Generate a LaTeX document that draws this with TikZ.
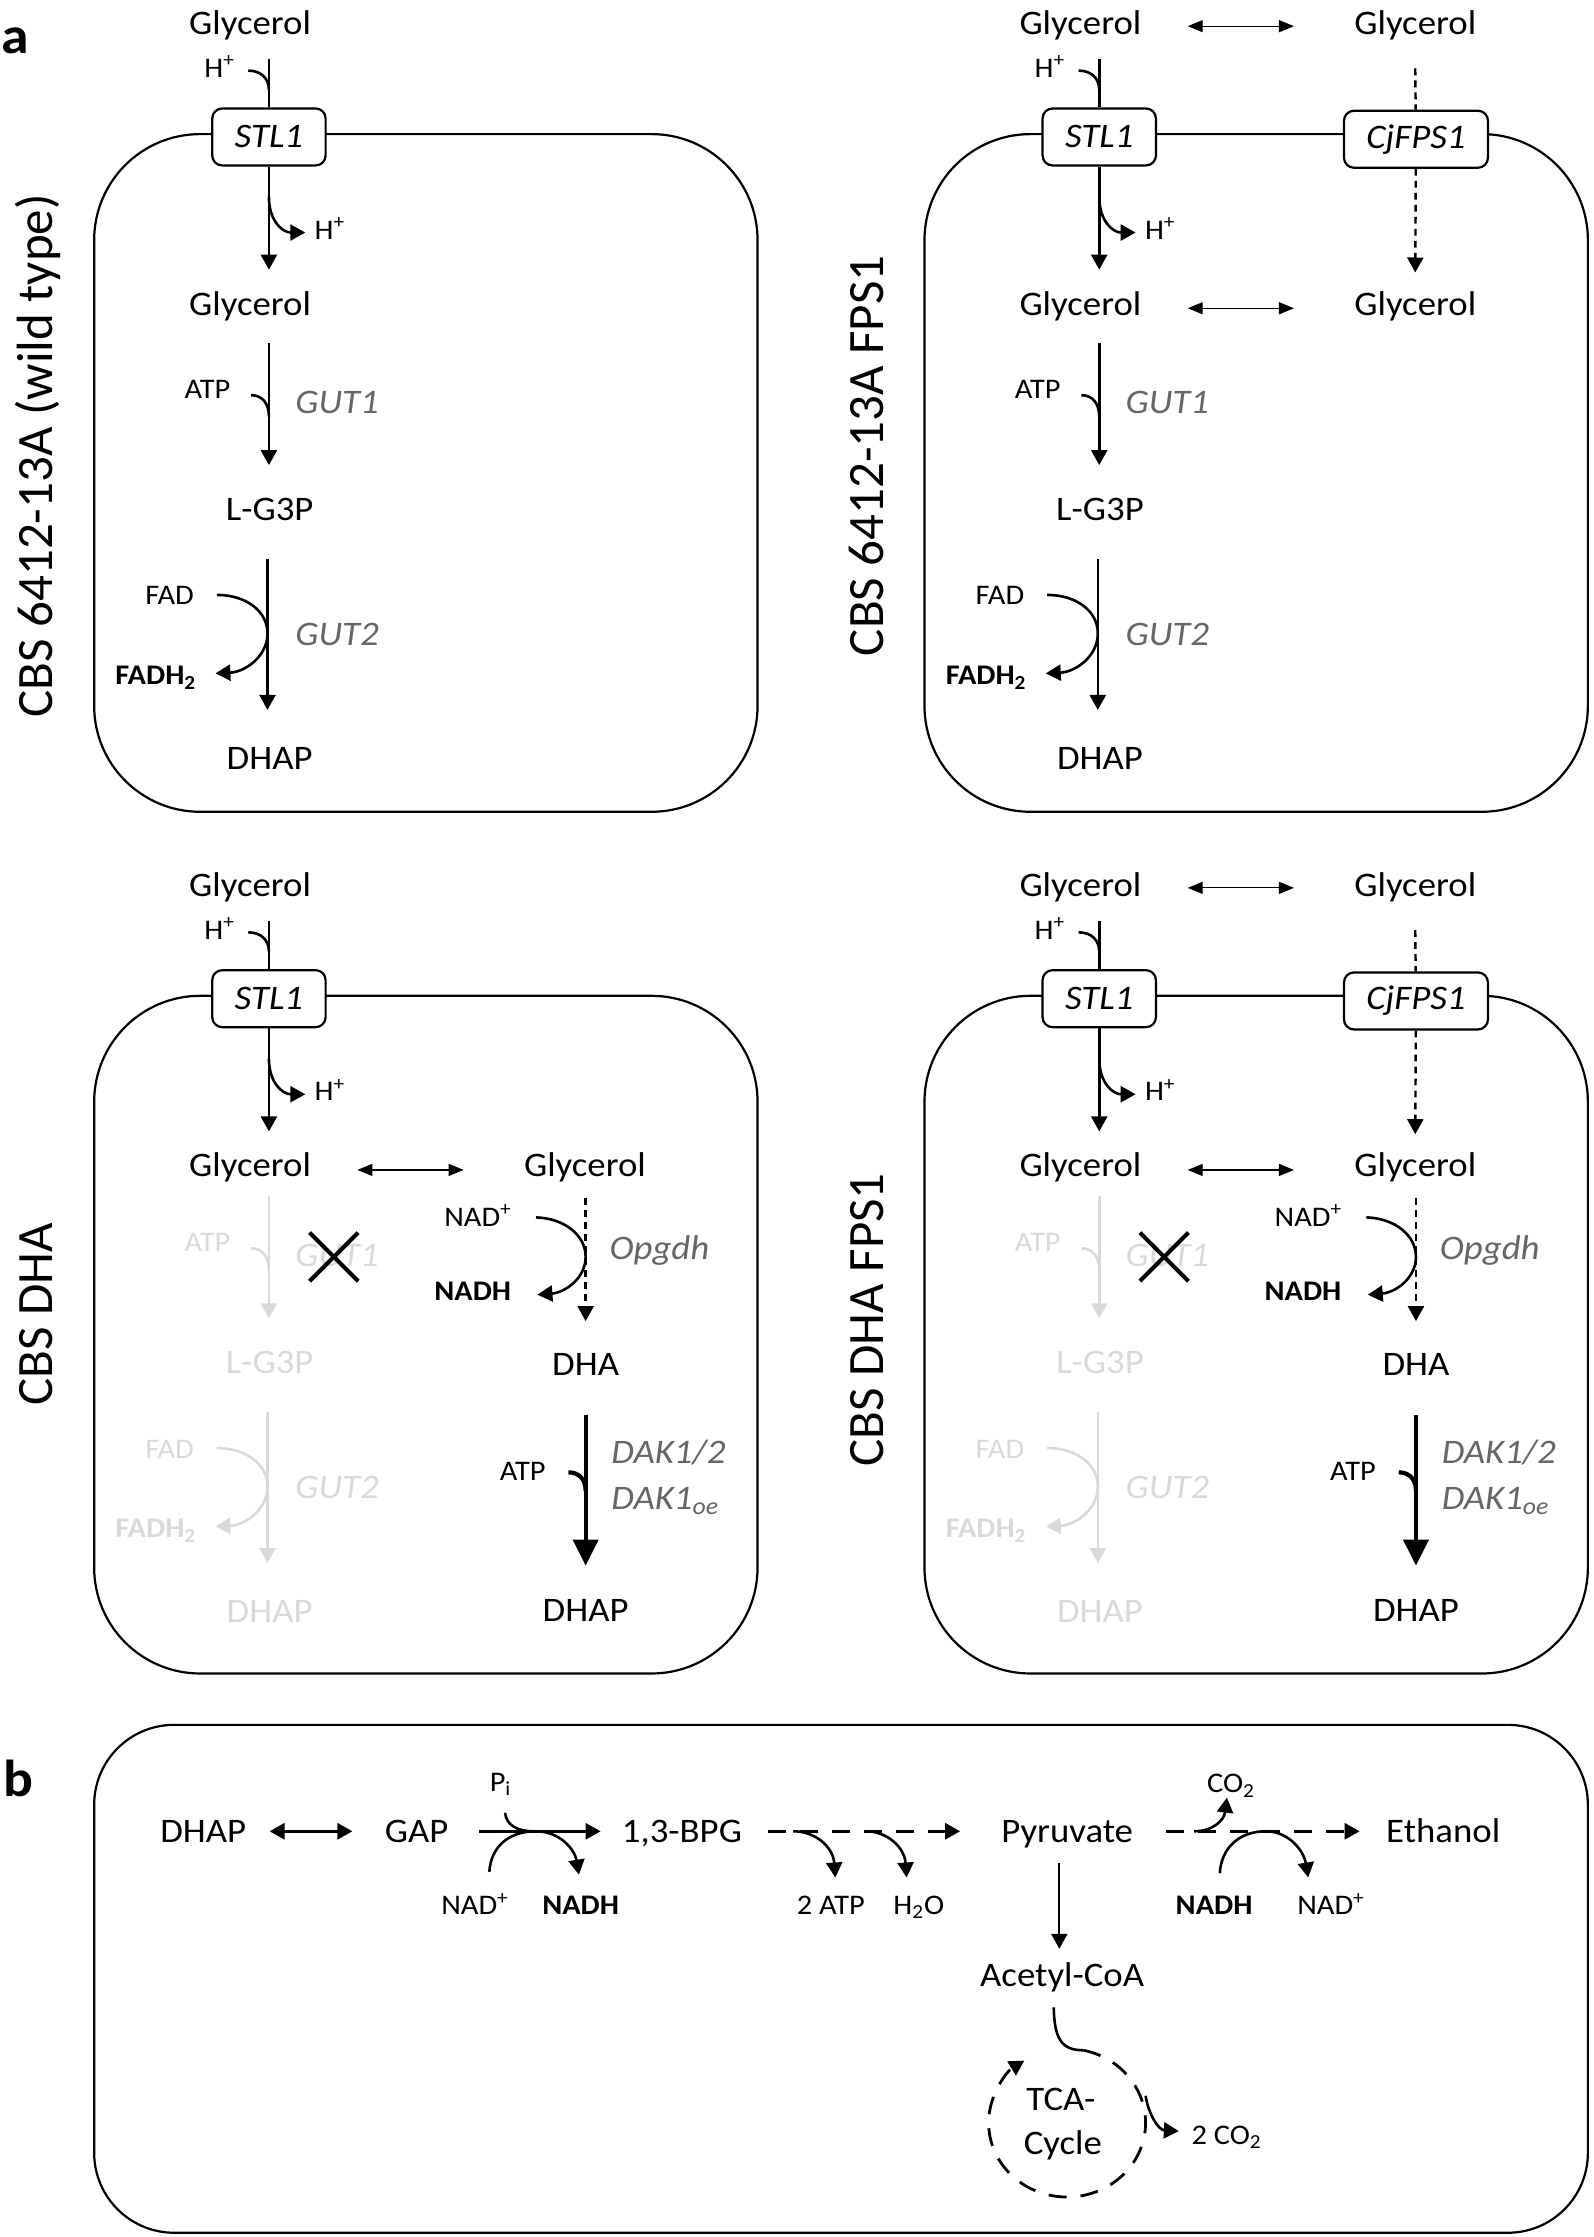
\documentclass[tikz,border=0pt]{standalone}
\usepackage{fontspec}
\setmainfont[FakeStretch=1.07]{Carlito}
\newfontfamily\rotfont{Carlito}
\usetikzlibrary{arrows.meta}
\colorlet{pathcol}{black}
\colorlet{genecol}{black!60}
\tikzset{
  main/.style={inner sep=0pt, font=\fontsize{17.2}{20}\selectfont},
  small/.style={inner sep=0pt, font=\fontsize{14.2}{17}\selectfont},
  gene/.style={inner sep=0pt, text=genecol, font=\fontsize{17.2}{20}\selectfont\itshape},
  panel/.style={inner sep=0pt, font=\fontsize{26}{30}\selectfont\bfseries},
  strain/.style={inner sep=0pt, rotate=90, anchor=base, font=\rotfont\fontsize{25.5}{30}\selectfont},
  cell/.style={draw, line width=1.1pt, rounded corners=53pt},
  tbox/.style={draw, fill=white, line width=1.1pt, rounded corners=5pt, inner sep=0pt, minimum height=28.5pt, font=\fontsize{17.2}{20}\selectfont\itshape},
  ln/.style={line width=1.3pt},
  atip/.tip={Triangle[length=7.5pt,width=8pt]},
  btip/.tip={Triangle[length=13pt,width=12.5pt]},
  arr/.style={ln, -atip},
  dsh/.style={line width=1.2pt, dash pattern=on 3.4pt off 2.6pt},
  dbl/.style={line width=0.6pt, {Triangle[length=7.5pt,width=6pt]}-{Triangle[length=7.5pt,width=6pt]}},
  heavy/.style={line width=2.1pt},
  bdash/.style={line width=1.4pt, dash pattern=on 9pt off 7pt},
}
% ---------- STL1 uptake ----------
\newcommand\stlpart{%
  \node[main,anchor=base] (g0) at (175.3,24.5) {Glycerol};
  \node[small,anchor=base west] (h0) at (143,54.2) {H\textsuperscript{+}};
  \node[tbox,minimum width=56.7pt] (stl) at (188.5,96) {STL1};
  \node[small,anchor=base west] (h1) at (220.3,167.7) {H\textsuperscript{+}};
  \node[main,anchor=base] (g1) at (175.3,220.8) {Glycerol};
  \coordinate (p0) at (188.5,41.6);
  \coordinate (p1) at (188.5,189);
  \coordinate (q0) at (174,49.5);
  \coordinate (q1) at (188.5,63);
  \coordinate (q2) at (188.5,138);
  \coordinate (q3) at (214,163);
  \draw[ln] (p0) -- (stl);
  \draw[arr] (stl) -- (p1);
  \draw[ln] (q0) .. controls (183,49.5) and (188.5,55) .. (q1);
  \draw[arr] (q2) .. controls (188.5,155) and (198,163) .. (q3);
}
% ---------- GUT1 / GUT2 ----------
\newcommand\gutpart{%
  \node[small,anchor=base east,text=pathcol] (atp1) at (161.7,279.1) {ATP};
  \node[gene,anchor=base west] (gut1) at (206.7,289.5) {GUT1};
  \node[main,anchor=base,text=pathcol] (lg3p) at (189,364.9) {L-G3P};
  \node[small,anchor=base east,text=pathcol] (fad) at (136.2,424) {FAD};
  \node[small,anchor=base east,text=pathcol] (fadh) at (137.8,480) {\textbf{FADH\textsubscript{2}}};
  \node[gene,anchor=base west] (gut2) at (206.7,452.5) {GUT2};
  \node[main,anchor=base,text=pathcol] (dhap1) at (189,539.6) {DHAP};
  \coordinate (r0) at (188.5,240.6);
  \coordinate (r1) at (188.5,326);
  \coordinate (s0) at (176,277);
  \coordinate (s1) at (188.5,292);
  \coordinate (u0) at (187.5,392);
  \coordinate (u1) at (187.5,497.6);
  \coordinate (v0) at (152,417);
  \coordinate (v1) at (151,472);
  \draw[arr,pathcol] (r0) -- (r1);
  \draw[ln,pathcol] (s0) .. controls (184,277) and (188.5,283) .. (s1);
  \draw[arr,pathcol] (u0) -- (u1);
  \draw[arr,pathcol] (v0) .. controls (172,417) and (187.5,428) .. (187.5,444)
        .. controls (187.5,460) and (172,471) .. (v1);
}
% ---------- CjFPS1 ----------
\newcommand\fpstop{%
  \node[main,anchor=base] (g0r) at (410,24.5) {Glycerol};
  \draw[dbl] ([xshift=23pt,yshift=2pt]g0.mid east) -- ([xshift=-30pt,yshift=2pt]g0r.mid west);
  \node[tbox,minimum width=72pt] (cj) at (410.5,97.6) {CjFPS1};
  \coordinate (d0) at (410,48);
  \coordinate (d1) at (410,191);
  \draw[dsh] (d0) -- (cj);
  \draw[dsh,-atip] (cj) -- (d1);
}
\newcommand\midright{%
  \node[main,anchor=base] (g1r) at (410,220.8) {Glycerol};
  \draw[dbl] ([xshift=23pt,yshift=1pt]g1.mid east) -- ([xshift=-30pt,yshift=1pt]g1r.mid west);
}
% ---------- DHA pathway ----------
\newcommand\dhapart{%
  \node[small,anchor=base east] (nad) at (359,255.6) {NAD\textsuperscript{+}};
  \node[small,anchor=base east] (nadh) at (358.5,307.5) {\textbf{NADH}};
  \node[gene,anchor=base west] (opg) at (427,279) {Opgdh};
  \node[main,anchor=base] (dha) at (410.5,360.3) {DHA};
  \node[small,anchor=base east] (atp2) at (382.7,433.6) {ATP};
  \node[gene,anchor=base west] (dak) at (428.3,422) {DAK1/2};
  \node[gene,anchor=base west] (dakoe) at (428.3,454.2) {DAK1\textsubscript{oe}};
  \node[main,anchor=base] (dhap2) at (410.5,532.4) {DHAP};
  \coordinate (e0) at (375.7,249.3);
  \coordinate (e1) at (376.7,303.5);
  \coordinate (f0) at (410.5,235.7);
  \coordinate (f1) at (410.5,322);
  \coordinate (k0) at (410.5,387.6);
  \coordinate (k1) at (410.5,493.4);
  \coordinate (m0) at (398.4,428);
  \coordinate (m1) at (410.5,441);
  \draw[dsh,-atip] (f0) -- (f1);
  \draw[arr] (e0) .. controls (396,250) and (410.5,262) .. (410.5,277)
        .. controls (410.5,292) and (396,302) .. (e1);
  \draw[heavy,-btip] (k0) -- (k1);
  \draw[heavy] (m0) .. controls (405,428) and (410.5,432) .. (m1);
  \coordinate (x1) at (217,260);
  \coordinate (x2) at (251,294);
  \coordinate (x3) at (217,294);
  \coordinate (x4) at (251,260);
  \draw[line width=2pt] (x1) -- (x2) (x3) -- (x4);
}
\begin{document}
\begin{tikzpicture}[x=0.7135pt,y=-0.7135pt]
\useasboundingbox (0,0) rectangle (1117,1568);

\node[panel,anchor=base west] (a) at (1,37.4) {a};

% top left
\begin{scope}[name prefix=tl-]
  \draw[cell] (66,94) rectangle (531,569);
  \stlpart
  \gutpart
  \node[strain] (lab) at (37,319.5) {CBS 6412-13A (wild type)};
\end{scope}

% top right
\begin{scope}[shift={(582,0)},name prefix=tr-]
  \draw[cell] (66,94) rectangle (531,569);
  \stlpart
  \gutpart
  \fpstop
  \midright
  \node[strain] (lab) at (37,319.5) {CBS 6412-13A FPS1};
\end{scope}

% bottom left
\begin{scope}[shift={(0,604)},name prefix=bl-]
  \draw[cell] (66,94) rectangle (531,569);
  \stlpart
  \begin{scope}[shift={(0,-6)}]
    \colorlet{pathcol}{black!15}\colorlet{genecol}{black!15}
    \gutpart
  \end{scope}
  \midright
  \dhapart
  \node[strain] (lab) at (37,317) {CBS DHA};
\end{scope}

% bottom right
\begin{scope}[shift={(582,604)},name prefix=br-]
  \draw[cell] (66,94) rectangle (531,569);
  \stlpart
  \begin{scope}[shift={(0,-6)}]
    \colorlet{pathcol}{black!15}\colorlet{genecol}{black!15}
    \gutpart
  \end{scope}
  \fpstop
  \midright
  \dhapart
  \node[strain] (lab) at (37,321) {CBS DHA FPS1};
\end{scope}

% ---------------- panel b ----------------
\node[panel,anchor=base west] (b) at (2.5,1259) {b};
\draw[cell,rounded corners=40pt] (66,1209) rectangle (1113,1565);

\node[main,anchor=base] (dhapb) at (142.5,1291.7) {DHAP};
\node[main,anchor=base] (gap) at (292,1291.7) {GAP};
\node[main,anchor=base] (bpg) at (478,1291.7) {1,3-BPG};
\node[main,anchor=base] (pyr) at (748,1291.7) {Pyruvate};
\node[main,anchor=base] (eth) at (1011.6,1291.7) {Ethanol};
\node[main,anchor=base] (acoa) at (744.5,1392.5) {Acetyl-CoA};
\node[small,anchor=base west] (pi) at (343,1255.6) {P\textsubscript{i}};
\node[small,anchor=base] (nadb1) at (333,1342) {NAD\textsuperscript{+}};
\node[small,anchor=base] (nadhb1) at (407,1342) {\textbf{NADH}};
\node[small,anchor=base] (atpb) at (582.4,1342) {2 ATP};
\node[small,anchor=base] (h2o) at (644,1342) {H\textsubscript{2}O};
\node[small,anchor=base west] (co2) at (845.8,1256.6) {CO\textsubscript{2}};
\node[small,anchor=base] (nadhb2) at (851,1342) {\textbf{NADH}};
\node[small,anchor=base] (nadb2) at (933,1342) {NAD\textsuperscript{+}};
\node[main,anchor=base] (tca) at (743.6,1479) {TCA-};
\node[main,anchor=base] (cyc) at (745,1510) {Cycle};
\node[small,anchor=base west] (co2b) at (835,1503) {2 CO\textsubscript{2}};

\coordinate (b0) at (189,1283.6);
\coordinate (b1) at (247,1283.6);
\coordinate (b2) at (336,1283.6);
\coordinate (b3) at (421,1283.6);
\coordinate (b4) at (538,1283.6);
\coordinate (b5) at (673,1283.6);
\coordinate (b6) at (817,1283.6);
\coordinate (b7) at (953,1283.6);
\draw[line width=1.5pt,atip-atip] (b0) -- (b1);
\draw[arr] (b2) -- (b3);
\draw[bdash,-atip] (b4) -- (b5);
\draw[bdash,-atip] (b6) -- (b7);

% Pi and NAD+/NADH at GAPDH
\coordinate (pi0) at (354,1270.7);
\coordinate (pi1) at (374,1283.6);
\draw[ln] (pi0) .. controls (355,1279) and (362,1283.6) .. (pi1);
\coordinate (n0) at (343,1312);
\coordinate (n1) at (405.8,1314);
\draw[arr] (n0) .. controls (344,1295) and (356,1283.6) .. (375.6,1283.6)
      .. controls (393,1283.6) and (403,1297) .. (n1);

% 2 ATP, H2O
\coordinate (w0) at (556,1283.6);
\coordinate (w1) at (585.5,1316);
\coordinate (w2) at (607,1283.6);
\coordinate (w3) at (635.5,1316);
\draw[arr] (w0) .. controls (572,1283.6) and (584,1295) .. (w1);
\draw[arr] (w2) .. controls (622,1283.6) and (634,1295) .. (w3);

% CO2 and NADH/NAD+ at ethanol step
\coordinate (c0) at (837,1283.6);
\coordinate (c1) at (860,1260);
\draw[arr] (c0) .. controls (850,1283.6) and (858,1276) .. (c1);
\coordinate (n2) at (855,1313);
\coordinate (n3) at (917,1316);
\draw[arr] (n2) .. controls (856,1295) and (869,1283.6) .. (887,1283.6)
      .. controls (904,1283.6) and (914,1298) .. (n3);

% Pyruvate -> Acetyl-CoA
\coordinate (y0) at (742.5,1306);
\coordinate (y1) at (742.5,1366);
\draw[line width=1pt,-atip] (y0) -- (y1);

% TCA cycle
\coordinate (t0) at (738.6,1407);
\coordinate (t1) at (759.4,1437.1);
\draw[ln] (t0) .. controls (739,1429) and (744,1437.1) .. (t1);
\draw[bdash,-atip] (t1) arc[start angle=-78,end angle=237,x radius=55,y radius=52];
\coordinate (z0) at (803,1469);
\coordinate (z1) at (826.3,1493.8);
\draw[arr] (z0) .. controls (805,1482) and (812,1493) .. (z1);

\end{tikzpicture}
\end{document}
